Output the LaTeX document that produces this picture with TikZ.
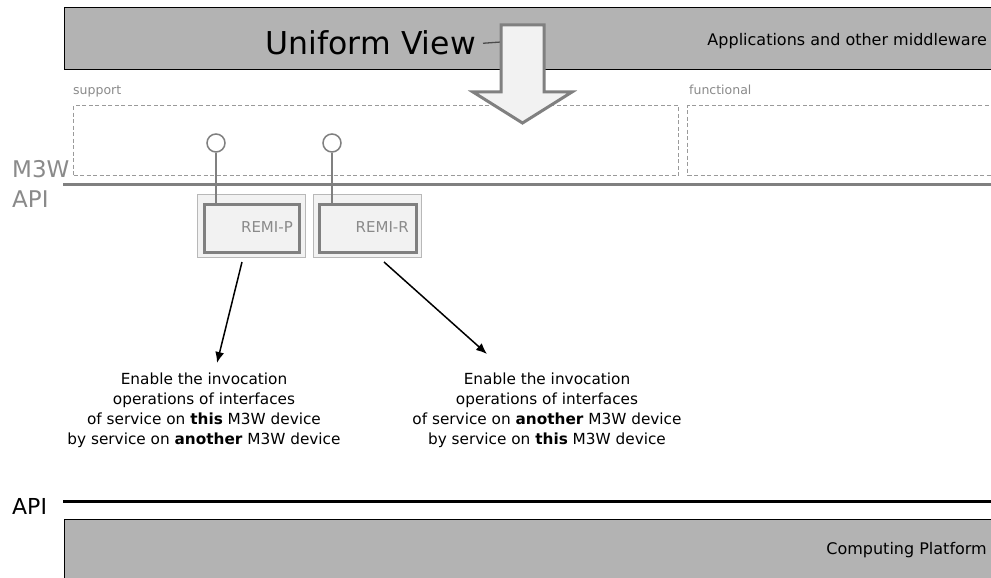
\documentclass[tikz,border=0pt]{standalone}
\usepackage{fontspec}
\setmainfont{DejaVu Sans}
\usetikzlibrary{arrows.meta}
\definecolor{layergray}{HTML}{B3B3B3}
\definecolor{lightfill}{HTML}{F2F2F2}
\definecolor{midgray}{HTML}{808080}
\definecolor{dashgray}{HTML}{9A9A9A}
\definecolor{textgray}{HTML}{8A8A8A}
\definecolor{outergray}{HTML}{B8B8B8}
\tikzset{
  layerbox/.style={draw=black, line width=1pt, fill=layergray, inner sep=0pt, anchor=north west},
  dashbox/.style={draw=dashgray, line width=1.3pt, dash pattern=on 4pt off 2.5pt, inner sep=0pt, anchor=north west},
  outerbox/.style={draw=outergray, line width=0.8pt, fill=lightfill, inner sep=0pt, anchor=north west},
  innerbox/.style={draw=midgray, line width=3pt, fill=lightfill, inner sep=0pt, anchor=north west},
  lolly/.style={circle, draw=midgray, line width=1.5pt, fill=white, minimum size=18pt, inner sep=0pt},
  stem/.style={draw=midgray, line width=2pt},
  remitext/.style={text=textgray, font=\fontsize{15}{18}\selectfont, anchor=east, inner sep=0pt},
  smalllabel/.style={text=textgray, font=\fontsize{12.5}{15}\selectfont, anchor=base west, inner sep=0pt},
  desc/.style={font=\fontsize{15.3}{20}\selectfont, align=center, anchor=north, inner sep=0pt},
  pointer/.style={draw=black, line width=1.5pt, -{Latex[length=11pt,width=9pt]}},
  bigarrow/.style={draw=midgray, line width=3pt, fill=lightfill, line join=miter},
}
\begin{document}
\begin{tikzpicture}[x=1pt,y=-1pt]
\useasboundingbox (0,0) rectangle (991,578);
\clip (0,0) rectangle (991,578);
\fill[white] (0,0) rectangle (991,578);

% top layer
\node[layerbox, minimum width=940pt, minimum height=62pt] (apps) at (64,7) {};
\node[anchor=base east, inner sep=0pt, font=\fontsize{31.5}{36}\selectfont] (uv) at (476,55) {Uniform View};
\node[anchor=east, inner sep=0pt, font=\fontsize{16}{19}\selectfont] (appstext) at (987,41) {Applications and other middleware};

% dashed groups
\node[smalllabel] (supportlbl) at (73,95) {support};
\node[dashbox, minimum width=605pt, minimum height=70pt] (support) at (73,105) {};
\node[smalllabel] (functlbl) at (689,95) {functional};
\node[dashbox, minimum width=330pt, minimum height=70pt] (functional) at (687,105) {};

% big arrow
\coordinate (arrowleft) at (501,42);
\draw[draw=black!70, line width=1.3pt] ([xshift=7pt]uv.east) -- (arrowleft);
\draw[bigarrow] (501,25) -- (544,25) -- (544,92) -- (572,92) -- (522.5,123) -- (473,92) -- (501,92) -- cycle;

% M3W API
\coordinate (m3wL) at (63,184);
\coordinate (m3wR) at (995,184);
\draw[draw=midgray, line width=3pt] (m3wL) -- (m3wR);
\node[anchor=base west, inner sep=0pt, text=textgray, font=\fontsize{23}{27}\selectfont] (m3wlbl) at (12,177) {M3W};
\node[anchor=base west, inner sep=0pt, text=textgray, font=\fontsize{23}{27}\selectfont] (apilbl) at (12,207) {API};

% REMI-P
\node[outerbox, minimum width=108pt, minimum height=63pt] (Pout) at (197,194) {};
\node[innerbox, minimum width=95pt, minimum height=48pt] (Pin) at (203,203) {};
\node[remitext] (Ptext) at (293,227) {REMI-P};
\node[lolly] (Pc) at (216,143) {};
\draw[stem] (Pc.south) -- (Pc.south |- Pin.north);

% REMI-R
\node[outerbox, minimum width=108pt, minimum height=63pt] (Rout) at (313,194) {};
\node[innerbox, minimum width=97pt, minimum height=48pt] (Rin) at (318,203) {};
\node[remitext] (Rtext) at (409,227) {REMI-R};
\node[lolly] (Rc) at (332,143) {};
\draw[stem] (Rc.south) -- (Rc.south |- Rin.north);

% descriptions
\node[desc] (d1) at (204,373) {Enable the invocation\\operations of interfaces\\of service on \textbf{this} M3W device\\by service on \textbf{another} M3W device};
\node[desc] (d2) at (547,373) {Enable the invocation\\operations of interfaces\\of service on \textbf{another} M3W device\\by service on \textbf{this} M3W device};

\coordinate (p1s) at (242,262);
\coordinate (p1e) at (217,363);
\coordinate (p2s) at (384,262);
\coordinate (p2e) at (487,354);
\draw[pointer] (p1s) -- (p1e);
\draw[pointer] (p2s) -- (p2e);

% API and platform
\coordinate (apiL) at (63,501);
\coordinate (apiR) at (995,501);
\draw[draw=black, line width=3pt] (apiL) -- (apiR);
\node[anchor=base west, inner sep=0pt, font=\fontsize{22}{26}\selectfont] (api2) at (12,514) {API};
\node[layerbox, minimum width=940pt, minimum height=70pt] (platform) at (64,519) {};
\node[anchor=east, inner sep=0pt, font=\fontsize{16}{19}\selectfont] (plattext) at (987,550) {Computing Platform};
\end{tikzpicture}
\end{document}
